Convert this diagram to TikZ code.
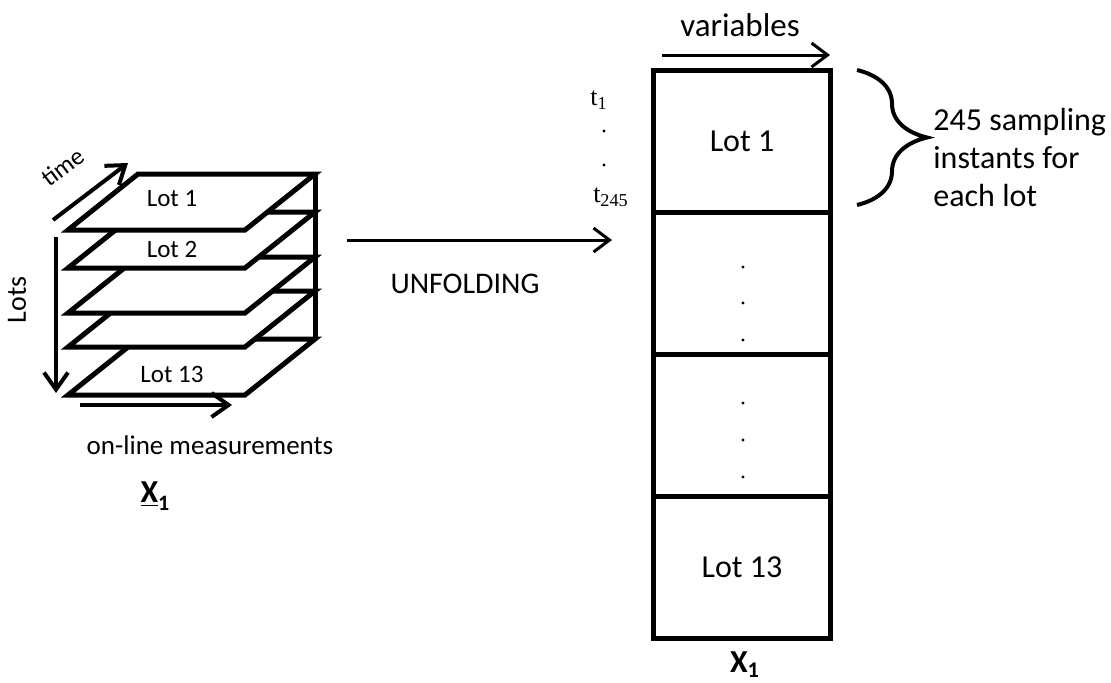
\documentclass[tikz,border=0pt]{standalone}
\usepackage{fontspec}
\setmainfont{Carlito}
\newfontfamily\timesfont{Liberation Serif}
\usetikzlibrary{arrows.meta, decorations.pathreplacing, positioning, calc}

\begin{document}
\begin{tikzpicture}[x=0.5pt, y=-0.5pt]%
        \tikzstyle{plate}=[draw=black, fill=white, line width=2.5pt, line join=miter];%
        \tikzstyle{block}=[draw=black, line width=2.5pt, minimum width=88.5pt, minimum height=71pt, inner sep=0pt, outer sep=0pt, font=\fontsize{16}{19}\selectfont];%
        \tikzstyle{axis}=[line width=2pt, -{Straight Barb[length=8.5pt, width=12pt, line width=2pt]}];%
        \tikzstyle{thin}=[line width=1.5pt, -{Straight Barb[length=8pt, width=12pt, line width=1.5pt]}];%
        \tikzstyle{small}=[font=\fontsize{12.5}{15}\selectfont, inner sep=0pt];%
        \tikzstyle{big}=[font=\fontsize{16}{19}\selectfont, inner sep=0pt];%
        \tikzstyle{dot}=[circle, fill=black, inner sep=0pt, minimum size=1.6pt];%
        \useasboundingbox (0,0) rectangle (1111,682);

        % stack of lots, bottom one first
        \foreach \y in {395, 347, 313, 268, 230} {
            \draw[plate] (68,\y) -- (245,\y) -- (315,\y-56) -- (138,\y-56) -- cycle;
        }
        \draw[line width=2.5pt] (315,174) -- (315,339);

        \node (l1) at (172,199) [small] {Lot 1};
        \node (l2) at (172,249) [small] {Lot 2};
        \node (l13) at (172,374) [small] {Lot 13};

        \coordinate (t0) at (53,220);
        \coordinate (t1) at (128,163);
        \draw[axis] (t0) -- (t1);
        \node[rotate=37] (timelbl) at (63,167) [small] {time};

        \coordinate (k0) at (56,237);
        \coordinate (k1) at (56,393);
        \draw[axis] (k0) -- (k1);
        \node[rotate=90] (lotslbl) at (17,300) [font=\fontsize{14}{16}\selectfont, inner sep=0pt] {Lots};

        \coordinate (m0) at (80,405);
        \coordinate (m1) at (232,405);
        \draw[axis] (m0) -- (m1);
        \node (meas) at (210,445) [font=\fontsize{13.5}{16}\selectfont, inner sep=0pt] {on-line measurements};

        \node (xl) at (155,496) [font=\fontsize{16}{18}\selectfont, inner sep=0pt] {\textbf{\underline{X}\raisebox{-0.5ex}{\fontsize{11}{12}\selectfont 1}}};

        % unfolding
        \coordinate (u0) at (347,240);
        \coordinate (u1) at (612,240);
        \draw[thin] (u0) -- (u1);
        \node (unf) at (465,284) [font=\fontsize{15}{18}\selectfont] {UNFOLDING};

        % unfolded matrix
        \node[block] (b1) at (742,141) {Lot 1};
        \node[block, below=0pt of b1] (b2) {};
        \node[block, below=0pt of b2] (b3) {};
        \node[block, below=0pt of b3] (b4) {Lot 13};

        \foreach \y in {267, 303, 340, 403, 440, 477} {
            \node[dot] at (743,\y) {};
        }

        \coordinate (v0) at (662,55);
        \coordinate (v1) at (830,55);
        \draw[thin] (v0) -- (v1);
        \node (var) at (740,25) [font=\fontsize{16.5}{19}\selectfont, inner sep=0pt] {variables};

        \node (ta) at (599,100) [font=\timesfont\fontsize{13}{15}\selectfont, inner sep=0pt] {t\textsubscript{1}};
        \node[dot] (da) at (604,131) {};
        \node[dot] (db) at (604,165) {};
        \node (tb) at (611,197) [font=\timesfont\fontsize{13}{15}\selectfont, inner sep=0pt] {t\textsubscript{245}};

        \coordinate (br0) at (857,70);
        \coordinate (br1) at (857,205);
        \draw[line width=2pt, decorate, decoration={brace, amplitude=35pt}] (br0) -- (br1);
        \node[anchor=west, align=left] (inst) at (933,157) [big] {245 sampling\\instants for\\each lot};

        \node (xr) at (745,665) [big] {\textbf{X\textsubscript{1}}};
\end{tikzpicture}
\end{document}
